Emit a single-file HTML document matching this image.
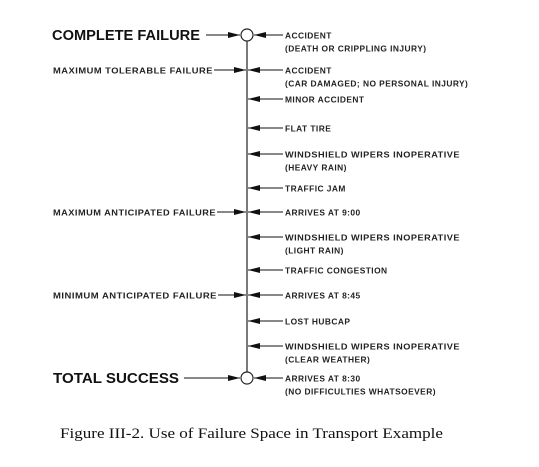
<!DOCTYPE html>
<html><head><meta charset="utf-8"><style>
html,body{margin:0;padding:0;background:#fff;width:539px;height:467px;overflow:hidden}
svg{display:block}
.s{font-family:"Liberation Sans",Arial,sans-serif;font-size:8.4px;font-weight:bold;fill:#222;letter-spacing:0.45px}
.b{font-family:"Liberation Sans",Arial,sans-serif;font-size:14.5px;font-weight:bold;fill:#111}
.c{font-family:"Liberation Serif",serif;font-size:15px;fill:#111}
</style></head><body>
<svg width="539" height="467" viewBox="0 0 539 467">
<defs>
<marker id="a" markerWidth="12" markerHeight="8" refX="12" refY="4" orient="auto" markerUnits="userSpaceOnUse">
<path d="M0,1 L12,4 L0,7 Z" fill="#111"/></marker>
</defs>
<g stroke="#222" stroke-width="1.2" fill="none">
<line x1="247" y1="41" x2="247" y2="372"/>
<circle cx="247" cy="35" r="6" fill="#fff"/>
<circle cx="247" cy="378" r="6" fill="#fff"/>
</g>
<g stroke="#111" stroke-width="1.1" marker-end="url(#a)">
<line x1="206" y1="35" x2="240" y2="35"/>
<line x1="214" y1="70" x2="246" y2="70"/>
<line x1="217" y1="212" x2="246" y2="212"/>
<line x1="218" y1="295" x2="246" y2="295"/>
<line x1="184" y1="378" x2="240" y2="378"/>
<line x1="283" y1="35" x2="254" y2="35"/>
<line x1="283" y1="70" x2="248" y2="70"/>
<line x1="283" y1="99" x2="248" y2="99"/>
<line x1="283" y1="128" x2="248" y2="128"/>
<line x1="283" y1="154" x2="248" y2="154"/>
<line x1="283" y1="188" x2="248" y2="188"/>
<line x1="283" y1="212" x2="248" y2="212"/>
<line x1="283" y1="237" x2="248" y2="237"/>
<line x1="283" y1="270" x2="248" y2="270"/>
<line x1="283" y1="295" x2="248" y2="295"/>
<line x1="283" y1="321" x2="248" y2="321"/>
<line x1="283" y1="346" x2="248" y2="346"/>
<line x1="283" y1="378" x2="254" y2="378"/>
</g>
<text class="b" x="52" y="40" textLength="148" lengthAdjust="spacingAndGlyphs">COMPLETE FAILURE</text>
<text class="b" x="53" y="383" textLength="126" lengthAdjust="spacingAndGlyphs">TOTAL SUCCESS</text>
<text class="s" x="53" y="73.5" textLength="160" lengthAdjust="spacingAndGlyphs">MAXIMUM TOLERABLE FAILURE</text>
<text class="s" x="53" y="215.5" textLength="163" lengthAdjust="spacingAndGlyphs">MAXIMUM ANTICIPATED FAILURE</text>
<text class="s" x="53" y="298.5" textLength="164" lengthAdjust="spacingAndGlyphs">MINIMUM ANTICIPATED FAILURE</text>
<text class="s" x="285" y="38.5">ACCIDENT</text>
<text class="s" x="285" y="51.5">(DEATH OR CRIPPLING INJURY)</text>
<text class="s" x="285" y="73.5">ACCIDENT</text>
<text class="s" x="285" y="86.5">(CAR DAMAGED; NO PERSONAL INJURY)</text>
<text class="s" x="285" y="102.5">MINOR ACCIDENT</text>
<text class="s" x="285" y="131.5">FLAT TIRE</text>
<text class="s" x="285" y="157.5" textLength="175" lengthAdjust="spacingAndGlyphs">WINDSHIELD WIPERS INOPERATIVE</text>
<text class="s" x="285" y="170.5">(HEAVY RAIN)</text>
<text class="s" x="285" y="191.5">TRAFFIC JAM</text>
<text class="s" x="285" y="215.5">ARRIVES AT 9:00</text>
<text class="s" x="285" y="240.5" textLength="175" lengthAdjust="spacingAndGlyphs">WINDSHIELD WIPERS INOPERATIVE</text>
<text class="s" x="285" y="253.5">(LIGHT RAIN)</text>
<text class="s" x="285" y="273.5">TRAFFIC CONGESTION</text>
<text class="s" x="285" y="298.5">ARRIVES AT 8:45</text>
<text class="s" x="285" y="324.5">LOST HUBCAP</text>
<text class="s" x="285" y="349.5" textLength="175" lengthAdjust="spacingAndGlyphs">WINDSHIELD WIPERS INOPERATIVE</text>
<text class="s" x="285" y="362.5">(CLEAR WEATHER)</text>
<text class="s" x="285" y="381.5">ARRIVES AT 8:30</text>
<text class="s" x="285" y="394.5">(NO DIFFICULTIES WHATSOEVER)</text>
<text class="c" x="60" y="438" textLength="383" lengthAdjust="spacingAndGlyphs">Figure III-2.  Use of Failure Space in Transport Example</text>
</svg>
</body></html>
